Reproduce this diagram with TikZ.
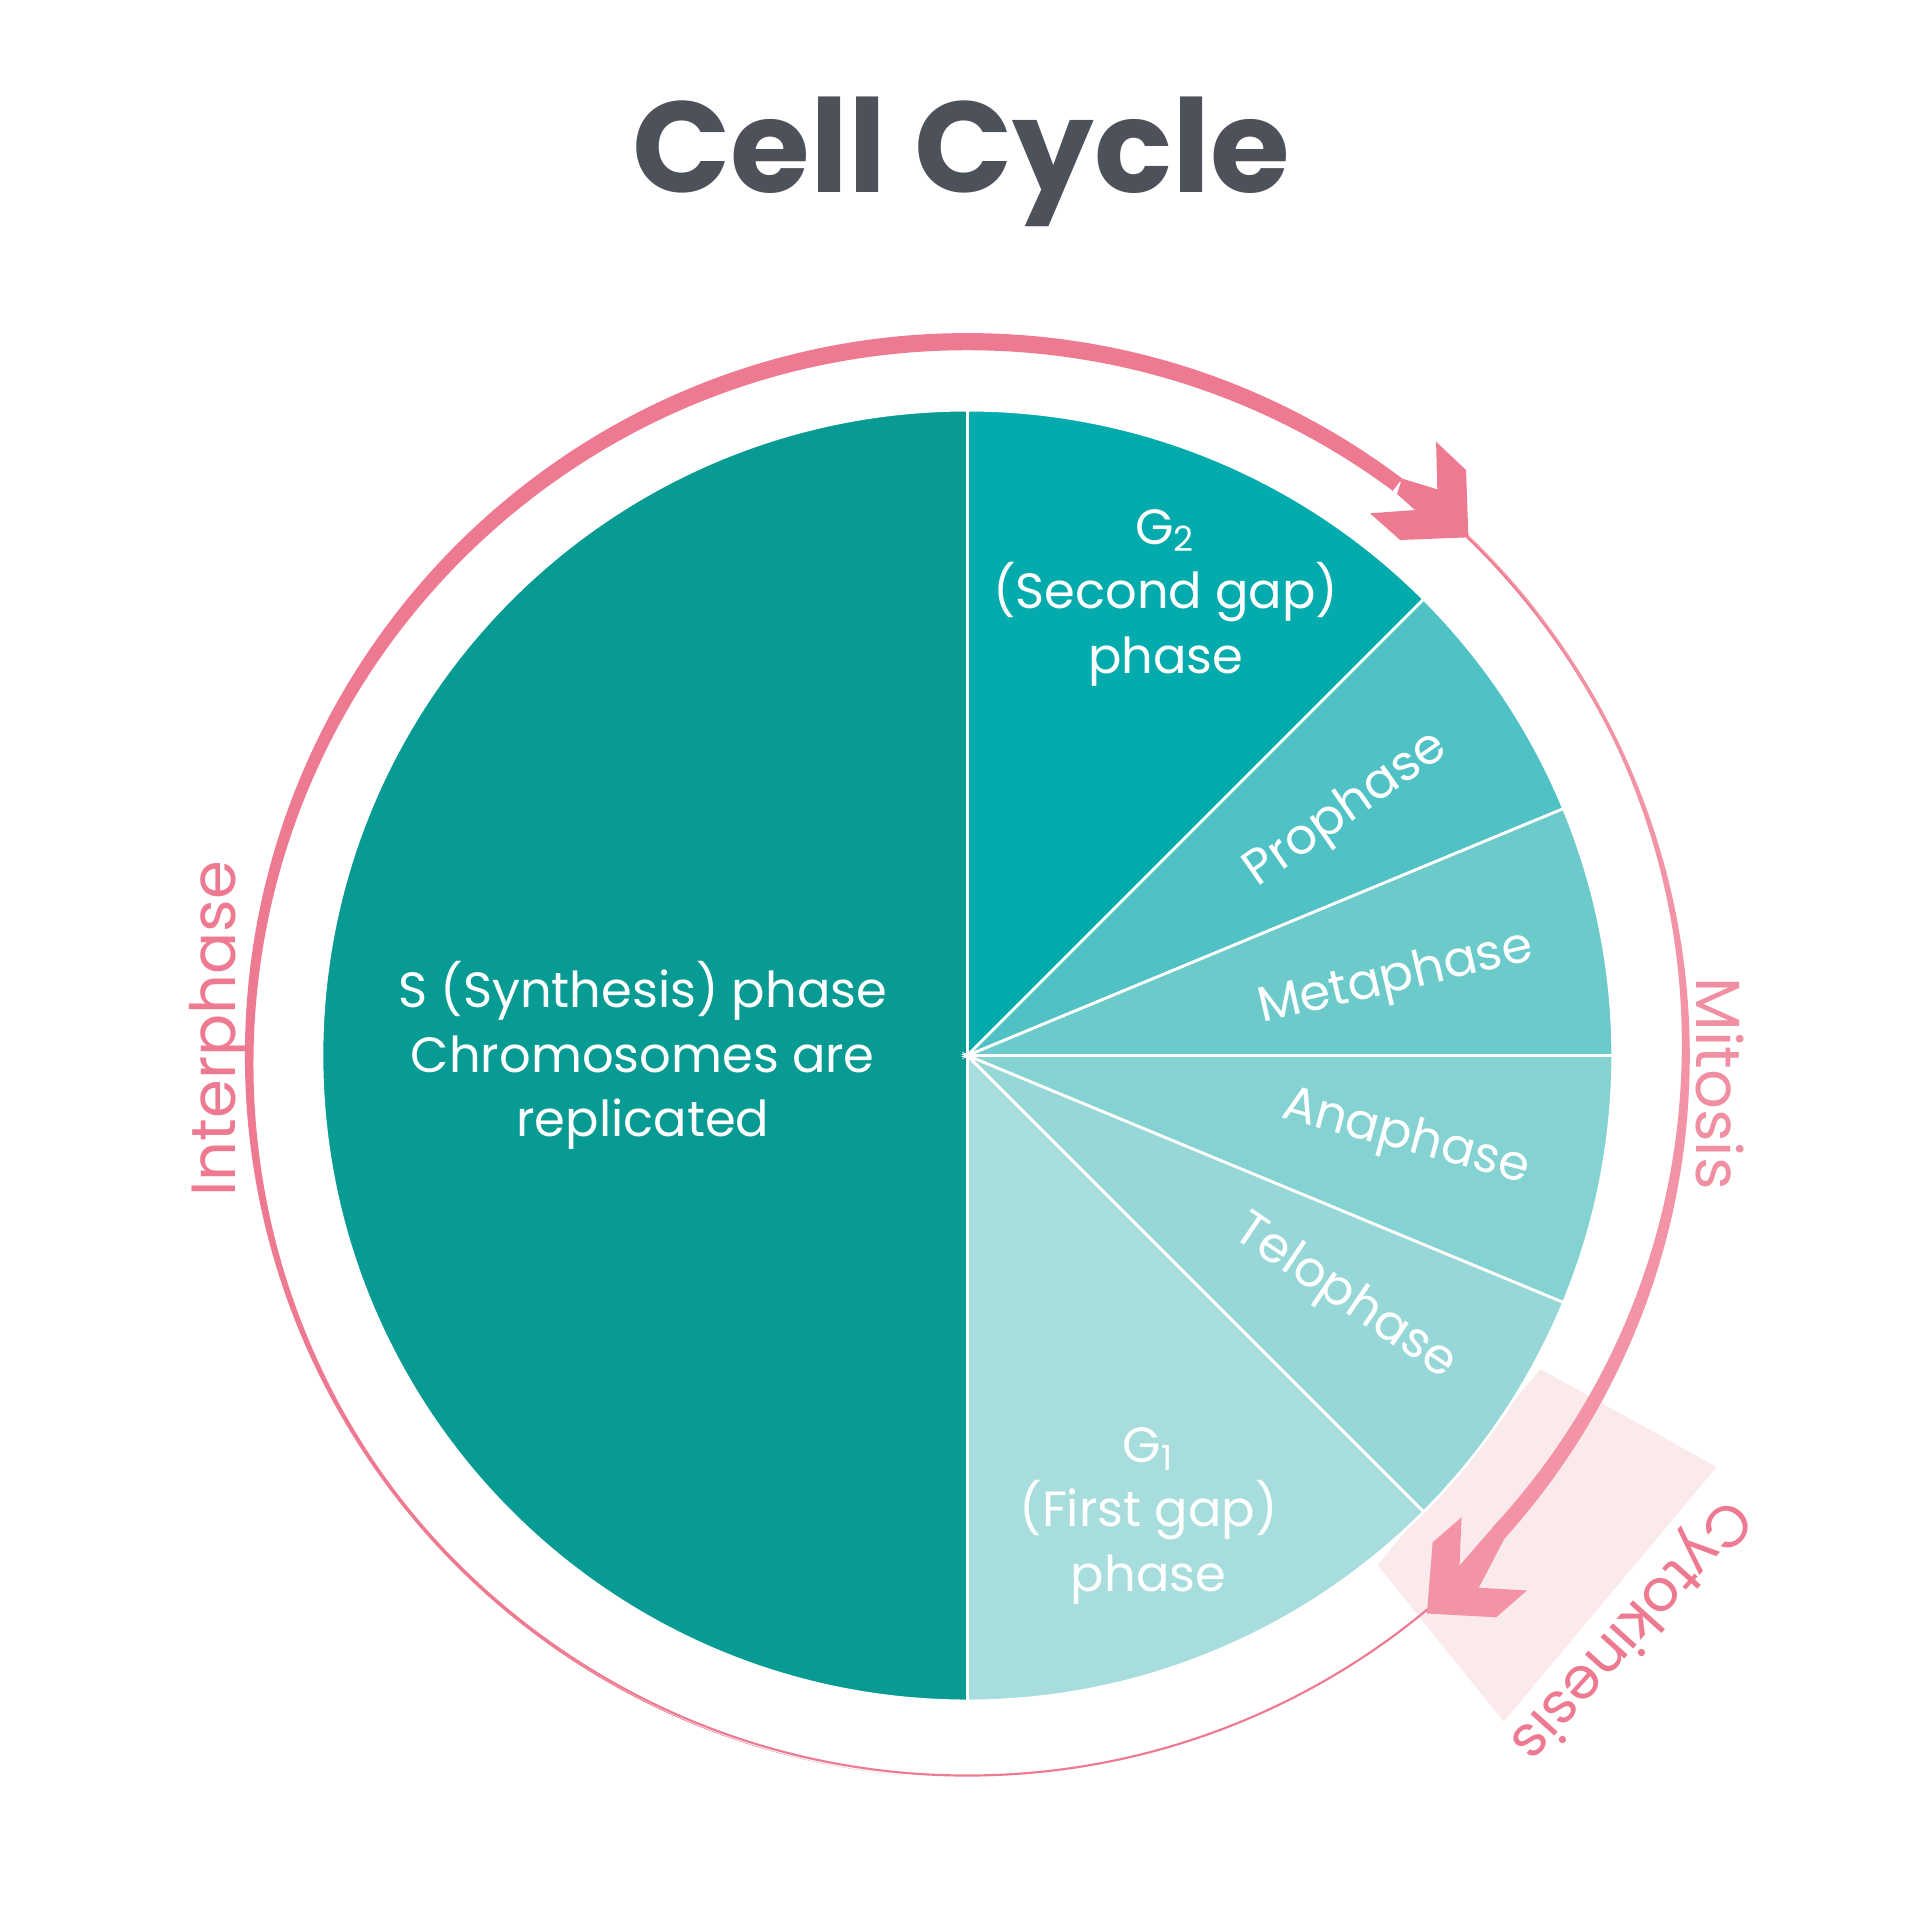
\documentclass[tikz,border=0pt]{standalone}
\usepackage{fontspec}
\setmainfont{Poppins}
\definecolor{cS}{HTML}{089B94}
\definecolor{cG2}{HTML}{03ABAD}
\definecolor{cPro}{HTML}{50C2C6}
\definecolor{cMeta}{HTML}{6CCACB}
\definecolor{cAna}{HTML}{84D2D2}
\definecolor{cTelo}{HTML}{98D7D8}
\definecolor{cG1}{HTML}{A7DDDD}
\definecolor{pinkA}{HTML}{EE7A92}
\definecolor{pinkB}{HTML}{F294A6}
\definecolor{boxp}{HTML}{FBEAEC}
\definecolor{titlec}{HTML}{4D5159}
\begin{document}
\begin{tikzpicture}[x=0.01cm,y=-0.01cm,
  lab/.style={text=white,font=\fontsize{11.5}{15}\selectfont,align=center},
  plab/.style={text=pinkA,font=\fontsize{14.5}{15}\selectfont},
  sect/.style={draw=white,line width=0.6pt}]
\useasboundingbox (0,0) rectangle (1568,1568);
\coordinate (O) at (790,862);
% pink box
\fill[boxp] (1258,1118) -- (1402,1198) -- (1228,1406) -- (1125,1278) -- cycle;
% sectors
\def\R{527}
\fill[sect,fill=cS] (O) -- ++(-90:\R) arc[start angle=-90,end angle=-270,radius=\R] -- cycle;
\fill[sect,fill=cG2] (O) -- ++(-90:\R) arc[start angle=-90,end angle=-45,radius=\R] -- cycle;
\fill[sect,fill=cPro] (O) -- ++(-45:\R) arc[start angle=-45,end angle=-22.5,radius=\R] -- cycle;
\fill[sect,fill=cMeta] (O) -- ++(-22.5:\R) arc[start angle=-22.5,end angle=0,radius=\R] -- cycle;
\fill[sect,fill=cAna] (O) -- ++(0:\R) arc[start angle=0,end angle=22.5,radius=\R] -- cycle;
\fill[sect,fill=cTelo] (O) -- ++(22.5:\R) arc[start angle=22.5,end angle=45,radius=\R] -- cycle;
\fill[sect,fill=cG1] (O) -- ++(45:\R) arc[start angle=45,end angle=90,radius=\R] -- cycle;
\foreach \a in {-90,-45,-22.5,0,22.5,45,90} \draw[sect] (O) -- ++(\a:\R);
% outer ring
\draw[pinkA,line width=0.5pt] (O) circle[radius=588];
\begin{scope}[shift={(O)}]
  \begin{scope}
    \clip (0,0) -- (307:900) -- (270:1200) -- (180:1200) -- (95:1200) -- cycle;
    \fill[pinkA,even odd rule] (0,0) circle[radius=590] (0,7) circle[radius=583];
  \end{scope}
  \begin{scope}
    \clip (0,0) -- (-47:900) -- (0:1200) -- (42:900) -- cycle;
    \fill[pinkB,even odd rule] (0,0) circle[radius=590] (3.3,-9.0) circle[radius=580.2];
  \end{scope}
\end{scope}
% arrow heads
\fill[pinkA] (1145,390.8) -- (1173.8,399.6) -- (1155.6,416.5) -- (1140.9,403.4) -- cycle;
\fill[pinkA] (1172.8,360.7) -- (1197.3,383.9) -- (1199.2,438.8) -- (1143.4,441) -- (1118.9,419.2) -- (1155.6,416.5) -- (1173.8,399.6) -- cycle;
\fill[pinkB] (1228.5,1256.8) -- (1207.7,1296.6) -- (1192,1278.4) -- (1224.5,1241.2) -- cycle;
\fill[pinkB] (1193.6,1239.1) -- (1170,1259.6) -- (1165.3,1317.7) -- (1221.9,1320.8) -- (1247,1298.9) -- (1207.7,1296.6) -- (1192,1278.4) -- cycle;
% title
\node[text=titlec,font=\fontsize{30}{36}\selectfont\bfseries] (title) at (785,132) {Cell Cycle};
% sector labels
\node[lab] (s) at (525,862) {S (Synthesis) phase\\Chromosomes are\\replicated};
\node[lab] (g2) at (952,488) {G\textsubscript{2}\\(Second gap)\\phase};
\node[lab,rotate=35] (pro) at (1100,662) {Prophase};
\node[lab,rotate=13] (meta) at (1140,800) {Metaphase};
\node[lab,rotate=-15] (ana) at (1148,930) {Anaphase};
\node[lab,rotate=-34] (telo) at (1098,1060) {Telophase};
\node[lab] (g1) at (938,1238) {G\textsubscript{1}\\(First gap)\\phase};
% ring labels
\node[plab,rotate=90] (inter) at (180,840) {Interphase};
\node[plab,rotate=-90,text=pinkB!80!pinkA] (mit) at (1405,885) {Mitosis};
\node[plab,rotate=-132,font=\fontsize{13.5}{15}\selectfont] (cyto) at (1330,1330) {Cytokinesis};
\end{tikzpicture}
\end{document}
